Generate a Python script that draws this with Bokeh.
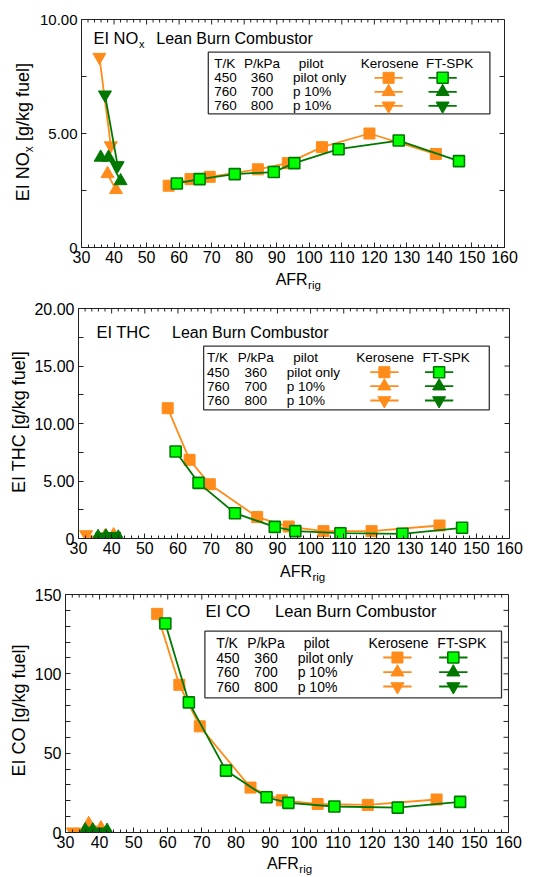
from bokeh.plotting import figure
from bokeh.models import Label, FixedTicker, Range1d
from bokeh.layouts import column, row
from bokeh.embed import file_html
from bokeh.resources import INLINE

FONT = "Liberation Sans"
ORANGE = "#FF8C1A"
DKGREEN = "#007800"
LIME = "#00FF00"
AXC = "#222222"
MID = 0.35  # distance from alphabetic baseline to text middle, in em

# ---------------- data ----------------
afr_ticks = [30, 40, 50, 60, 70, 80, 90, 100, 110, 120, 130, 140, 150, 160]
afr_minor = [v for v in range(30, 161, 2) if v % 10 != 0]

legend_T = ["450", "760", "760"]
legend_P = ["360", "700", "800"]
legend_pilot = ["pilot only", "p 10%", "p 10%"]
legend_header = ["T/K", "P/kPa", "pilot", "Kerosene", "FT-SPK"]

# EI NOx
nox_ticks = [0, 5, 10]
nox_minor = [2.5, 7.5]
nox_tick_labels = ["0", "5.00", "10.00"]
nox_ker_sq_x = [56.8, 63.5, 69.4, 84.2, 93.4, 103.9, 118.5, 138.9]
nox_ker_sq_y = [2.71, 3.00, 3.10, 3.43, 3.70, 4.40, 5.00, 4.10]
nox_ft_sq_x = [59.3, 66.3, 77.1, 89.1, 95.4, 109.0, 127.5, 146.0]
nox_ft_sq_y = [2.81, 3.00, 3.22, 3.31, 3.70, 4.31, 4.69, 3.79]
nox_ker_up_x = [38.0, 40.6]
nox_ker_up_y = [3.23, 2.53]
nox_ker_dn_x = [35.5, 39.0]
nox_ker_dn_y = [8.35, 4.47]
nox_ft_up_x = [35.9, 38.3, 42.0]
nox_ft_up_y = [3.95, 3.95, 2.92]
nox_ft_dn_x = [37.2, 41.1]
nox_ft_dn_y = [6.70, 3.60]

# EI THC
thc_ticks = [0, 5, 10, 15, 20]
thc_minor = [2.5, 7.5, 12.5, 17.5]
thc_tick_labels = ["0", "5.00", "10.00", "15.00", "20.00"]
thc_ker_sq_x = [56.9, 63.5, 69.6, 83.9, 93.4, 103.9, 118.4, 138.9]
thc_ker_sq_y = [11.33, 6.84, 4.72, 1.86, 1.04, 0.64, 0.64, 1.13]
thc_ft_sq_x = [59.3, 66.2, 77.2, 89.2, 95.4, 109.0, 127.7, 145.7]
thc_ft_sq_y = [7.57, 4.84, 2.20, 1.01, 0.64, 0.46, 0.41, 0.93]
thc_ker_up_x = [38.0, 40.6]
thc_ker_up_y = [0.20, 0.30]
thc_ker_dn_x = [32.3, 35.2, 39.4]
thc_ker_dn_y = [0.35, -0.10, -0.20]
thc_ft_up_x = [35.9, 38.3, 42.0]
thc_ft_up_y = [0.15, 0.20, 0.10]
thc_ft_dn_x = [37.0, 40.8]
thc_ft_dn_y = [0.15, 0.20]

# EI CO
co_ticks = [0, 50, 100, 150]
co_minor = [10, 20, 30, 40, 60, 70, 80, 90, 110, 120, 130, 140]
co_tick_labels = ["0", "50", "100", "150"]
co_ker_sq_x = [56.9, 63.4, 69.4, 84.3, 93.5, 104.0, 118.7, 138.9]
co_ker_sq_y = [137.8, 93.1, 66.9, 28.3, 20.3, 18.0, 17.4, 20.8]
co_ft_sq_x = [59.3, 66.2, 77.1, 89.0, 95.4, 108.9, 127.5, 145.8]
co_ft_sq_y = [131.7, 82.0, 39.0, 22.2, 18.7, 16.4, 15.7, 19.3]
co_ker_up_x = [36.8, 40.4]
co_ker_up_y = [5.5, 2.8]
co_ker_dn_x = [32.2, 35.0, 39.0]
co_ker_dn_y = [0.5, 0.3, -0.5]
co_ft_up_x = [35.8, 38.0, 42.2]
co_ft_up_y = [1.5, 1.5, 1.2]
co_ft_dn_x = [36.8, 40.6]
co_ft_dn_y = [1.0, 0.5]

PAGE_W = 533
SQ = 11
TRI = 13


def blank_strip(width, height):
    s = figure(width=width, height=height, x_range=Range1d(0, width), y_range=Range1d(0, height),
               output_backend="svg", toolbar_location=None, min_border=0,
               min_border_left=0, min_border_right=0, min_border_top=0, min_border_bottom=0,
               x_axis_location=None, y_axis_location=None)
    s.outline_line_color = None
    s.background_fill_color = "white"
    s.border_fill_color = "white"
    for g in s.grid:
        g.visible = False
    return s


def add_label(fig, text, x, y, size, align="left", angle=0):
    fig.add_layout(Label(x=x, y=y, text=text, text_font=FONT, text_font_size=f"{size}px",
                         text_align=align, text_baseline="middle", text_color="black",
                         angle=angle, angle_units="deg"))


def make_panel(cfg):
    L, T, R, B = cfg["frame"]
    top, H, Ws, xs_top = cfg["top"], cfg["H"], cfg["Ws"], cfg["xs_top"]
    bottom = top + H
    main_w = PAGE_W - Ws
    main_h = xs_top - top
    x0, x1 = 30, 160
    y0, y1 = cfg["yrange"]

    def dx(px):
        return x0 + (px - L) * (x1 - x0) / (R - L)

    def dy(py):
        return y0 + (B - py) * (y1 - y0) / (B - T)

    p = figure(width=main_w, height=main_h, x_range=Range1d(x0, x1), y_range=Range1d(y0, y1),
               output_backend="svg", toolbar_location=None,
               min_border_left=L - Ws, min_border_right=PAGE_W - R,
               min_border_top=T - top, min_border_bottom=xs_top - B)
    p.xgrid.visible = False
    p.ygrid.visible = False
    p.outline_line_color = AXC
    p.background_fill_color = "white"
    p.border_fill_color = "white"

    xt = FixedTicker(ticks=afr_ticks, minor_ticks=afr_minor)
    yt = FixedTicker(ticks=cfg["yticks"], minor_ticks=cfg["yminor"])

    for ax in (p.xaxis[0], p.yaxis[0]):
        ax.axis_line_color = AXC
        ax.major_tick_line_color = AXC
        ax.minor_tick_line_color = AXC
        ax.major_tick_in = 5
        ax.major_tick_out = 0
        ax.minor_tick_out = 0
        ax.major_label_text_font = FONT
        ax.major_label_text_color = "black"

    bx = p.xaxis[0]
    bx.ticker = xt
    bx.minor_tick_in = 3
    bx.major_label_text_font_size = "16px"
    bx.major_label_standoff = 3

    ly = p.yaxis[0]
    ly.ticker = yt
    ly.minor_tick_in = 5
    ly.major_label_text_font_size = cfg["ytick_size"]
    ly.major_label_standoff = 4
    ly.major_label_overrides = {v: s for v, s in zip(cfg["yticks"], cfg["ytick_labels"])}

    # mirrored inner ticks on the top and right frame edges
    ty_maj = (y1 - y0) * 5 / (B - T)
    ty_min = (y1 - y0) * 3 / (B - T)
    p.segment(x0=afr_ticks, x1=afr_ticks, y0=[y1] * len(afr_ticks),
              y1=[y1 - ty_maj] * len(afr_ticks), line_color=AXC, line_width=1)
    p.segment(x0=afr_minor, x1=afr_minor, y0=[y1] * len(afr_minor),
              y1=[y1 - ty_min] * len(afr_minor), line_color=AXC, line_width=1)
    yall = list(cfg["yticks"]) + list(cfg["yminor"])
    tx_maj = (x1 - x0) * 5 / (R - L)
    p.segment(x0=[x1] * len(yall), x1=[x1 - tx_maj] * len(yall), y0=yall, y1=yall,
              line_color=AXC, line_width=1)

    d = cfg["data"]
    lw = 1.8
    p.line(d["ker_sq"][0], d["ker_sq"][1], line_color=ORANGE, line_width=lw)
    p.line(d["ker_up"][0], d["ker_up"][1], line_color=ORANGE, line_width=lw)
    p.line(d["ker_dn"][0], d["ker_dn"][1], line_color=ORANGE, line_width=lw)
    p.scatter(d["ker_sq"][0], d["ker_sq"][1], marker="square", size=SQ,
              fill_color=ORANGE, line_color=ORANGE, line_width=1)
    p.scatter(d["ker_up"][0], d["ker_up"][1], marker="triangle", size=TRI,
              fill_color=ORANGE, line_color=ORANGE)
    p.scatter(d["ker_dn"][0], d["ker_dn"][1], marker="inverted_triangle", size=TRI,
              fill_color=ORANGE, line_color=ORANGE)
    p.line(d["ft_sq"][0], d["ft_sq"][1], line_color=DKGREEN, line_width=lw)
    p.line(d["ft_up"][0], d["ft_up"][1], line_color=DKGREEN, line_width=lw)
    p.line(d["ft_dn"][0], d["ft_dn"][1], line_color=DKGREEN, line_width=lw)
    p.scatter(d["ft_sq"][0], d["ft_sq"][1], marker="square", size=SQ,
              fill_color=LIME, line_color=DKGREEN, line_width=1.6)
    p.scatter(d["ft_up"][0], d["ft_up"][1], marker="triangle", size=TRI,
              fill_color=DKGREEN, line_color=DKGREEN)
    p.scatter(d["ft_dn"][0], d["ft_dn"][1], marker="inverted_triangle", size=TRI,
              fill_color=DKGREEN, line_color=DKGREEN)

    def lab_base(text, px, py_base, size, align="left"):
        add_label(p, text, dx(px), dy(py_base - MID * size), size, align)

    def lab_mid(text, px, py, size, align="left"):
        add_label(p, text, dx(px), dy(py), size, align)

    for (t, px, py, sz) in cfg["title"]:
        lab_base(t, px, py, sz)

    # legend table
    lg = cfg["legend"]
    bl, bt, br, bb = lg["box"]
    p.quad(left=[dx(bl)], right=[dx(br)], top=[dy(bt)], bottom=[dy(bb)],
           fill_color=None, line_color="#333333", line_width=1.3)
    fs = lg["font"]
    rows = lg["rows"]
    lab_mid(legend_header[0], lg["T"], rows[0], fs)
    lab_mid(legend_header[1], lg["Pc"], rows[0], fs, align="center")
    lab_mid(legend_header[2], lg["pilot_hdr"], rows[0], fs)
    lab_mid(legend_header[3], lg["ker"], rows[0], fs)
    lab_mid(legend_header[4], lg["ft"], rows[0], fs)
    for i in range(3):
        ry_ = rows[i + 1]
        lab_mid(legend_T[i], lg["T"], ry_, fs)
        lab_mid(legend_P[i], lg["Pc"], ry_, fs, align="center")
        lab_mid(legend_pilot[i], lg["pilot"], ry_, fs)
    half = 14.2
    mk_y = [dy(r) for r in rows[1:]]
    for cx, col in ((lg["mk_ker"], ORANGE), (lg["mk_ft"], DKGREEN)):
        p.segment(x0=[dx(cx - half)] * 3, x1=[dx(cx + half)] * 3, y0=mk_y, y1=mk_y,
                  line_color=col, line_width=lw)
    kx, fx = dx(lg["mk_ker"]), dx(lg["mk_ft"])
    p.scatter([kx], [mk_y[0]], marker="square", size=SQ, fill_color=ORANGE, line_color=ORANGE)
    p.scatter([kx], [mk_y[1]], marker="triangle", size=TRI, fill_color=ORANGE, line_color=ORANGE)
    p.scatter([kx], [mk_y[2]], marker="inverted_triangle", size=TRI, fill_color=ORANGE, line_color=ORANGE)
    p.scatter([fx], [mk_y[0]], marker="square", size=SQ, fill_color=LIME, line_color=DKGREEN, line_width=1.6)
    p.scatter([fx], [mk_y[1]], marker="triangle", size=TRI, fill_color=DKGREEN, line_color=DKGREEN)
    p.scatter([fx], [mk_y[2]], marker="inverted_triangle", size=TRI, fill_color=DKGREEN, line_color=DKGREEN)

    # y-axis title strip (left); rotated text, baseline given as page x
    ys = blank_strip(Ws, H)
    for (t, px_base, py, sz, al) in cfg["ylabel"]:
        add_label(ys, t, px_base - MID * sz, bottom - py, sz, align=al, angle=90)

    # x-axis title strip (below); baselines given as page y
    xs = blank_strip(main_w, bottom - xs_top)
    jx, jy = cfg["xlabel"]
    add_label(xs, "AFR", jx - Ws, bottom - (jy - MID * 16), 16, align="right")
    add_label(xs, "rig", jx - Ws + 0.5, bottom - (jy + 3.5 - MID * 11.5), 11.5, align="left")

    return row(ys, column(p, xs, spacing=0), spacing=0)


cfg1 = dict(
    top=0, H=293, Ws=36, xs_top=268, frame=(78, 19, 504, 247), yrange=(0, 10),
    yticks=nox_ticks, yminor=nox_minor, ytick_labels=nox_tick_labels, ytick_size="15px",
    data=dict(ker_sq=(nox_ker_sq_x, nox_ker_sq_y), ft_sq=(nox_ft_sq_x, nox_ft_sq_y),
              ker_up=(nox_ker_up_x, nox_ker_up_y), ker_dn=(nox_ker_dn_x, nox_ker_dn_y),
              ft_up=(nox_ft_up_x, nox_ft_up_y), ft_dn=(nox_ft_dn_x, nox_ft_dn_y)),
    title=[("EI NO", 90, 43.5, 16.5), ("x", 136, 47, 11),
           ("Lean Burn Combustor", 153.3, 44, 16)],
    ylabel=[("EI NO", 29, 151.7, 18, "right"), ("x", 32.5, 151.7, 12, "left"),
            ("[g/kg fuel]", 29, 140.5, 18, "left")],
    xlabel=(301.7, 285),
    legend=dict(box=(205.7, 51.7, 489.3, 113.3), rows=[63.3, 77.3, 91.3, 105.3],
                T=211.7, Pc=259.7, pilot_hdr=296.7, pilot=291, ker=359.3, ft=425,
                mk_ker=387.3, mk_ft=441.7, font=13.5),
)

cfg2 = dict(
    top=293, H=292, Ws=31, xs_top=559, frame=(76, 308, 509, 538), yrange=(0, 20),
    yticks=thc_ticks, yminor=thc_minor, ytick_labels=thc_tick_labels, ytick_size="16px",
    data=dict(ker_sq=(thc_ker_sq_x, thc_ker_sq_y), ft_sq=(thc_ft_sq_x, thc_ft_sq_y),
              ker_up=(thc_ker_up_x, thc_ker_up_y), ker_dn=(thc_ker_dn_x, thc_ker_dn_y),
              ft_up=(thc_ft_up_x, thc_ft_up_y), ft_dn=(thc_ft_dn_x, thc_ft_dn_y)),
    title=[("EI THC", 94, 337.7, 16.5), ("Lean Burn Combustor", 170, 337.7, 16)],
    ylabel=[("EI THC [g/kg fuel]", 25, 421.5, 18, "center")],
    xlabel=(303, 577),
    legend=dict(box=(201.7, 345.7, 488.7, 409.3), rows=[357.3, 371.7, 385.7, 400],
                T=205, Pc=254, pilot_hdr=291.7, pilot=285.3, ker=355, ft=421.7,
                mk_ker=383.3, mk_ft=438.3, font=13.5),
)

cfg3 = dict(
    top=585, H=292, Ws=31, xs_top=853, frame=(64, 594, 508, 832), yrange=(0, 150),
    yticks=co_ticks, yminor=co_minor, ytick_labels=co_tick_labels, ytick_size="16px",
    data=dict(ker_sq=(co_ker_sq_x, co_ker_sq_y), ft_sq=(co_ft_sq_x, co_ft_sq_y),
              ker_up=(co_ker_up_x, co_ker_up_y), ker_dn=(co_ker_dn_x, co_ker_dn_y),
              ft_up=(co_ft_up_x, co_ft_up_y), ft_dn=(co_ft_dn_x, co_ft_dn_y)),
    title=[("EI CO", 204.3, 616.7, 16.5), ("Lean Burn Combustor", 274, 616.7, 16.5)],
    ylabel=[("EI CO [g/kg fuel]", 25, 710, 18, "center")],
    xlabel=(295.5, 869),
    legend=dict(box=(203.7, 630.7, 501, 697.3), rows=[642.3, 657, 671.7, 686],
                T=215, Pc=265, pilot_hdr=302.7, pilot=296.7, ker=367.7, ft=436.7,
                mk_ker=396.7, mk_ft=452.7, font=14),
)

layout = column(make_panel(cfg1), make_panel(cfg2), make_panel(cfg3), spacing=0)
open("out.html", "w").write(file_html(layout, INLINE))
